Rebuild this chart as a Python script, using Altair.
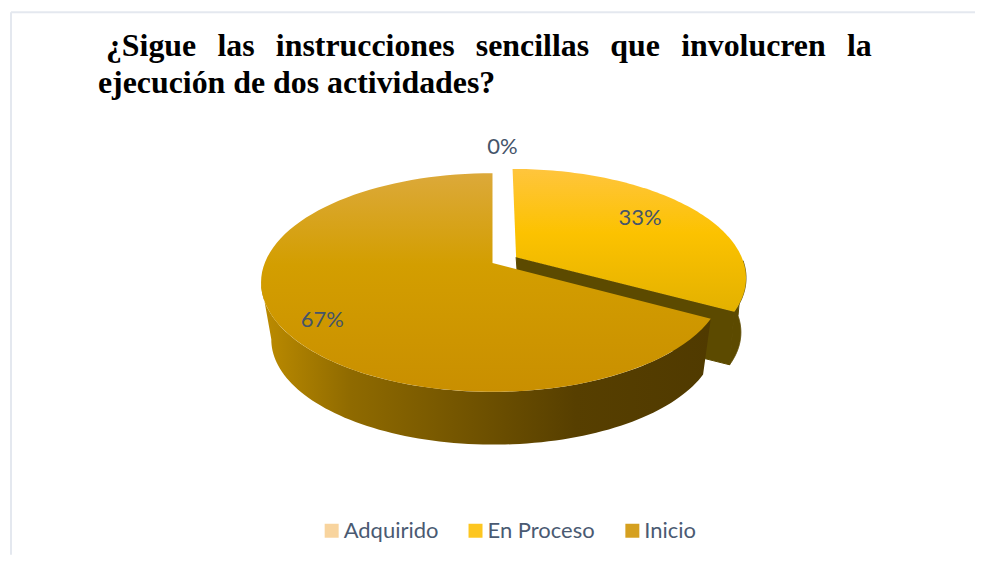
import numpy as np
import pandas as pd
import altair as alt

categories = ["Adquirido", "En Proceso", "Inicio"]
shares = [0.0, 0.33, 0.67]
swatch_colors = ["#f8d49e", "#fdc620", "#d5a020"]

gap = "\u2002\u2006"
title_line1 = gap.join(["¿Sigue", "las", "instrucciones", "sencillas", "que", "involucren", "la"])
title_line2 = "ejecución de dos actividades?"

W, H = 968, 547
# perspective view of the pie disk
CX, CY = 485.0, 255.0      # disk centre on the top plane
A, B, K = 228.0, 106.0, 0.178
FLOOR_DY, FLOOR_S = 58.0, 0.96   # bottom plane
EXPLODE = 0.11


def project(u, v, floor=False, nudge=(0, 0)):
    w = 1 + K * v
    x, y = A * u / w, -B * v / w
    if floor:
        return CX + 1 + FLOOR_S * x + nudge[0], CY + FLOOR_DY + FLOOR_S * y + nudge[1]
    return CX + x, CY + y


def polygon(us, vs, floors, nudge=(0, 0)):
    pts = [project(u, v, f, nudge) for u, v, f in zip(us, vs, floors)]
    return pd.DataFrame({"x": [p[0] for p in pts], "y": [p[1] for p in pts], "i": range(len(pts))})


def rim(a0, a1, off=(0, 0), n=90):
    t = np.radians(np.linspace(a0, a1, n))
    return off[0] + np.sin(t), off[1] + np.cos(t)


def wedge(a0, a1, off=(0, 0)):
    u, v = rim(a0, a1, off)
    return polygon([off[0], *u], [off[1], *v], [False] * (len(u) + 1))


def wall(a0, a1, off=(0, 0), nudge=(0, 0)):
    u, v = rim(a0, a1, off)
    return polygon([*u, *u[::-1]], [*v, *v[::-1]], [False] * len(u) + [True] * len(u), nudge)


split = shares[1] * 360
mid = np.radians(split / 2)
off = (EXPLODE * np.sin(mid) + 0.01, EXPLODE * np.cos(mid))
slice_nudge = (4, -3)
end_u, end_v = rim(split, split, off, 1)
cut = polygon([off[0], end_u[0], end_u[0], off[0]], [off[1], end_v[0], end_v[0], off[1]],
              [False, False, True, True], slice_nudge)


def grad(stops, horizontal=False):
    g = dict(x1=0, y1=0, x2=1 if horizontal else 0, y2=0 if horizontal else 1)
    return alt.Gradient(gradient="linear", stops=[alt.GradientStop(offset=o, color=c) for o, c in stops], **g)


X = alt.X("x:Q", axis=None, scale=alt.Scale(domain=[0, W], nice=False, zero=False))
Y = alt.Y("y:Q", axis=None, scale=alt.Scale(domain=[0, H], nice=False, zero=False, reverse=True))


def poly(df, fill):
    return alt.Chart(df).mark_line(fill=fill, strokeWidth=0, interpolate="linear-closed").encode(
        x=X, y=Y, order=alt.Order("i:Q"))


def solid(df, color):
    return alt.Chart(df).mark_line(fill=color, stroke=color, strokeWidth=1, interpolate="linear-closed").encode(
        x=X, y=Y, order=alt.Order("i:Q"))


olive = "#5c4a00"
layers = [
    solid(wall(92, split, off, slice_nudge), olive),
    solid(cut, olive),
    poly(wall(split, 260), grad([(0, "#bd8c00"), (0.2, "#8f6a00"), (0.7, "#573f00"), (1, "#503a00")], True)),
    poly(wedge(split, 360), grad([(0, "#dca93a"), (0.42, "#d39e00"), (1, "#c98f00")])),
    poly(wedge(0, split, off), grad([(0, "#ffc53d"), (0.45, "#fcc200"), (1, "#e3b100")])),
]

# legend carrier, hidden behind the pie
legend_df = pd.DataFrame({"cat": categories, "x": [CX] * 3, "y": [CY] * 3})
legend_layer = alt.Chart(legend_df).mark_square(size=1, opacity=0).encode(
    x=X, y=Y,
    color=alt.Color("cat:N", sort=categories,
                    scale=alt.Scale(domain=categories, range=swatch_colors),
                    legend=alt.Legend(orient="none", legendX=313, legendY=512, direction="horizontal",
                                      title=None, symbolType="square", symbolSize=196, symbolOpacity=1,
                                      symbolStrokeWidth=0, labelFont="Lato", labelFontSize=22,
                                      labelColor="#4a5a72", labelOffset=1, columnPadding=26,
                                      columns=3)))

# percentage labels
label_angle = [0.0, split / 2, split + (360 - split) / 2]
label_radius = [1.36, 0.75, 0.84]
label_dx = [10, -11, 8]
label_dy = [0, -2, 8]
lab = []
for s, a, r, dx, dy, base in zip(shares, label_angle, label_radius, label_dx, label_dy, [(0, 0), off, (0, 0)]):
    px, py = project(base[0] + r * np.sin(np.radians(a)), base[1] + r * np.cos(np.radians(a)))
    lab.append({"share": s, "x": px + dx, "y": py + dy})
labels = alt.Chart(pd.DataFrame(lab)).mark_text(
    font="Lato", fontSize=22, color="#44546a", align="center", baseline="middle"
).encode(x=X, y=Y, text=alt.Text("share:Q", format=".0%"))

frame_top = alt.Chart(pd.DataFrame({"a": [0]})).mark_rule(color="#e4e8ef", strokeWidth=2).encode(
    x=alt.value(3), x2=alt.value(W), y=alt.value(4))
frame_left = alt.Chart(pd.DataFrame({"a": [0]})).mark_rule(color="#e4e8ef", strokeWidth=2).encode(
    x=alt.value(3), y=alt.value(4), y2=alt.value(H))


def title_text(txt, x, y):
    return alt.Chart(pd.DataFrame({"t": [txt]})).mark_text(
        font="Liberation Serif", fontWeight="bold", fontSize=31.9, color="#000000",
        align="left", baseline="alphabetic"
    ).encode(x=alt.value(x), y=alt.value(y), text="t:N")


chart = alt.layer(
    frame_top, frame_left,
    title_text(title_line1, 98, 48), title_text(title_line2, 90, 85),
    legend_layer, *layers, labels,
).properties(width=W, height=H, padding=0, background="#ffffff").configure_view(stroke=None)

chart.save("out.html", embed_options={"renderer": "svg", "actions": False})
